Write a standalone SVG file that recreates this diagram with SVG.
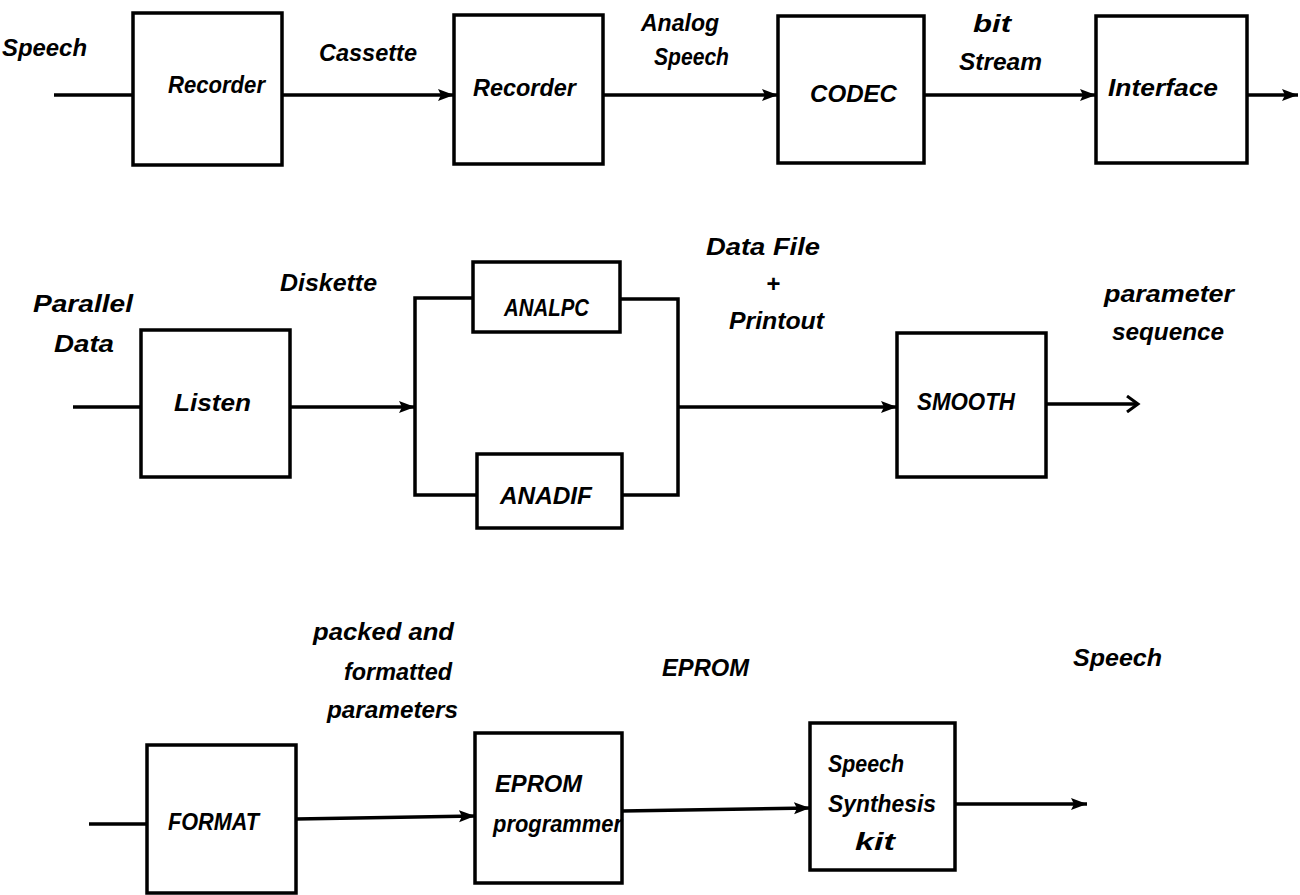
<svg xmlns="http://www.w3.org/2000/svg" width="1300" height="895" viewBox="0 0 1300 895">
<style>
.box{fill:none;stroke:#000;stroke-width:3.5}
.ln{fill:none;stroke:#000;stroke-width:3.5}
.t{font-family:"Liberation Sans",Arial,sans-serif;font-size:24px;font-weight:bold;font-style:italic;fill:#000}
.a{marker-end:url(#ah)}
.o{marker-end:url(#oh)}
</style>
<defs>
<marker id="ah" markerUnits="userSpaceOnUse" markerWidth="18" markerHeight="14" refX="16" refY="7" orient="auto">
<path d="M0,1 L16,7 L0,13 L3,7 Z" fill="#000"/>
</marker>
<marker id="oh" markerUnits="userSpaceOnUse" markerWidth="16" markerHeight="18" refX="13" refY="9" orient="auto">
<path d="M2,1 L13,9 L2,17" fill="none" stroke="#000" stroke-width="3"/>
</marker>
</defs>
<rect width="1300" height="895" fill="#fff"/>

<g id="connectors">
<line class="ln" x1="54" y1="95" x2="133" y2="95"/>
<line class="ln a" x1="282" y1="95" x2="454" y2="95"/>
<line class="ln a" x1="603" y1="95" x2="778" y2="95"/>
<line class="ln a" x1="924" y1="95" x2="1096" y2="95"/>
<line class="ln a" x1="1247" y1="95" x2="1298" y2="95"/>

<line class="ln" x1="73" y1="407" x2="141" y2="407"/>
<line class="ln a" x1="290" y1="407" x2="415" y2="407"/>
<polyline class="ln" points="473,298 415,298 415,495 477,495"/>
<polyline class="ln" points="620,299 678,299 678,495 622,495"/>
<line class="ln a" x1="678" y1="407" x2="897" y2="407"/>
<line class="ln o" x1="1046" y1="404" x2="1138" y2="404"/>

<line class="ln" x1="89" y1="824" x2="147" y2="824"/>
<line class="ln a" x1="296" y1="819" x2="475" y2="816"/>
<line class="ln a" x1="622" y1="811" x2="810" y2="808"/>
<line class="ln a" x1="955" y1="804" x2="1087" y2="804"/>
</g>

<g id="lbl-speech-in"><text class="t" x="2" y="56" textLength="85" lengthAdjust="spacingAndGlyphs">Speech</text></g>
<g id="lbl-cassette"><text class="t" x="319" y="61" textLength="98" lengthAdjust="spacingAndGlyphs">Cassette</text></g>
<g id="lbl-analog"><text class="t" x="641" y="31" textLength="78" lengthAdjust="spacingAndGlyphs">Analog</text><text class="t" x="654" y="65" textLength="75" lengthAdjust="spacingAndGlyphs">Speech</text></g>
<g id="lbl-bitstream"><text class="t" x="973" y="32" textLength="38" lengthAdjust="spacingAndGlyphs">bit</text><text class="t" x="959" y="70" textLength="83" lengthAdjust="spacingAndGlyphs">Stream</text></g>

<g id="n-recorder1"><rect class="box" x="133" y="13" width="149" height="152"/><text class="t" x="168" y="93" textLength="97" lengthAdjust="spacingAndGlyphs">Recorder</text></g>
<g id="n-recorder2"><rect class="box" x="454" y="15" width="149" height="149"/><text class="t" x="473" y="96" textLength="103" lengthAdjust="spacingAndGlyphs">Recorder</text></g>
<g id="n-codec"><rect class="box" x="778" y="16" width="146" height="147"/><text class="t" x="810" y="102" textLength="87" lengthAdjust="spacingAndGlyphs">CODEC</text></g>
<g id="n-interface"><rect class="box" x="1096" y="16" width="151" height="147"/><text class="t" x="1108" y="96" textLength="110" lengthAdjust="spacingAndGlyphs">Interface</text></g>

<g id="lbl-parallel"><text class="t" x="33" y="312" textLength="100" lengthAdjust="spacingAndGlyphs">Parallel</text><text class="t" x="54" y="352" textLength="60" lengthAdjust="spacingAndGlyphs">Data</text></g>
<g id="lbl-diskette"><text class="t" x="280" y="291" textLength="97" lengthAdjust="spacingAndGlyphs">Diskette</text></g>
<g id="lbl-datafile"><text class="t" x="706" y="255" textLength="114" lengthAdjust="spacingAndGlyphs">Data File</text><text class="t" x="766" y="292">+</text><text class="t" x="729" y="329" textLength="95" lengthAdjust="spacingAndGlyphs">Printout</text></g>
<g id="lbl-paramseq"><text class="t" x="1104" y="302" textLength="130" lengthAdjust="spacingAndGlyphs">parameter</text><text class="t" x="1112" y="340" textLength="112" lengthAdjust="spacingAndGlyphs">sequence</text></g>

<g id="n-listen"><rect class="box" x="141" y="330" width="149" height="147"/><text class="t" x="174" y="411" textLength="77" lengthAdjust="spacingAndGlyphs">Listen</text></g>
<g id="n-analpc"><rect class="box" x="473" y="262" width="147" height="70"/><text class="t" x="504" y="316" textLength="85" lengthAdjust="spacingAndGlyphs">ANALPC</text></g>
<g id="n-anadif"><rect class="box" x="477" y="454" width="145" height="74"/><text class="t" x="500" y="504" textLength="92" lengthAdjust="spacingAndGlyphs">ANADIF</text></g>
<g id="n-smooth"><rect class="box" x="897" y="333" width="149" height="144"/><text class="t" x="917" y="410" textLength="98" lengthAdjust="spacingAndGlyphs">SMOOTH</text></g>

<g id="lbl-packed"><text class="t" x="313" y="640" textLength="141" lengthAdjust="spacingAndGlyphs">packed and</text><text class="t" x="344" y="680" textLength="108" lengthAdjust="spacingAndGlyphs">formatted</text><text class="t" x="327" y="718" textLength="131" lengthAdjust="spacingAndGlyphs">parameters</text></g>
<g id="lbl-eprom"><text class="t" x="662" y="676" textLength="87" lengthAdjust="spacingAndGlyphs">EPROM</text></g>
<g id="lbl-speech-out"><text class="t" x="1073" y="666" textLength="89" lengthAdjust="spacingAndGlyphs">Speech</text></g>

<g id="n-format"><rect class="box" x="147" y="745" width="149" height="148"/><text class="t" x="168" y="830" textLength="91" lengthAdjust="spacingAndGlyphs">FORMAT</text></g>
<g id="n-eprom"><rect class="box" x="475" y="733" width="147" height="150"/><text class="t" x="495" y="792" textLength="87" lengthAdjust="spacingAndGlyphs">EPROM</text><text class="t" x="493" y="832" textLength="129" lengthAdjust="spacingAndGlyphs">programmer</text></g>
<g id="n-synth"><rect class="box" x="810" y="723" width="145" height="147"/><text class="t" x="828" y="772" textLength="76" lengthAdjust="spacingAndGlyphs">Speech</text><text class="t" x="828" y="812" textLength="108" lengthAdjust="spacingAndGlyphs">Synthesis</text><text class="t" x="855" y="850" textLength="40" lengthAdjust="spacingAndGlyphs">kit</text></g>
</svg>
